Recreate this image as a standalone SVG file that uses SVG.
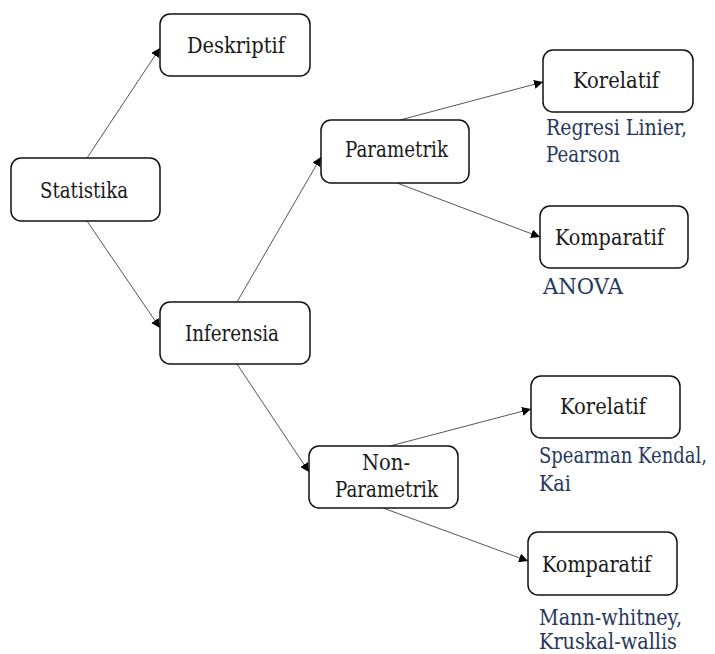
<svg xmlns="http://www.w3.org/2000/svg" width="715" height="654" viewBox="0 0 715 654">
<defs>
<marker id="ah" viewBox="0 0 10 10" refX="10" refY="5" markerWidth="9" markerHeight="9" markerUnits="userSpaceOnUse" orient="auto">
<path d="M0,0 L10,5 L0,10 z" fill="#000"/>
</marker>
<style>
.box{fill:#fff;stroke:#111;stroke-width:1.5}
.t{font-family:"DejaVu Serif",serif;font-size:22px;fill:#1a1a1a}
.b{font-family:"DejaVu Serif",serif;font-size:22px;fill:#27385e}
.c{stroke:#555;stroke-width:1;fill:none;marker-end:url(#ah)}
</style>
</defs>
<rect width="715" height="654" fill="#fff"/>
<g id="connectors">
<line class="c" x1="87" y1="158" x2="160" y2="48"/>
<line class="c" x1="87" y1="221" x2="160" y2="328"/>
<line class="c" x1="237" y1="302" x2="321" y2="157"/>
<line class="c" x1="237" y1="364" x2="309" y2="472"/>
<line class="c" x1="400" y1="120" x2="543" y2="82"/>
<line class="c" x1="397" y1="183" x2="540" y2="237"/>
<line class="c" x1="390" y1="446" x2="531" y2="409"/>
<line class="c" x1="383" y1="508" x2="528" y2="561"/>
</g>
<g id="deskriptif"><rect class="box" x="160" y="14" width="150" height="62" rx="10"/><text class="t" x="187" y="53" textLength="98" lengthAdjust="spacingAndGlyphs">Deskriptif</text></g>
<g id="statistika"><rect class="box" x="11" y="158" width="149" height="63" rx="10"/><text class="t" x="40" y="198" textLength="88" lengthAdjust="spacingAndGlyphs">Statistika</text></g>
<g id="inferensia"><rect class="box" x="160" y="302" width="150" height="62" rx="10"/><text class="t" x="185" y="341" textLength="94" lengthAdjust="spacingAndGlyphs">Inferensia</text></g>
<g id="parametrik"><rect class="box" x="321" y="120" width="148" height="63" rx="10"/><text class="t" x="345" y="157" textLength="103" lengthAdjust="spacingAndGlyphs">Parametrik</text></g>
<g id="korelatif1"><rect class="box" x="543" y="50" width="150" height="62" rx="10"/><text class="t" x="573" y="88" textLength="86" lengthAdjust="spacingAndGlyphs">Korelatif</text></g>
<g id="komparatif1"><rect class="box" x="540" y="206" width="148" height="62" rx="10"/><text class="t" x="555" y="245" textLength="109" lengthAdjust="spacingAndGlyphs">Komparatif</text></g>
<g id="nonparametrik"><rect class="box" x="309" y="446" width="149" height="62" rx="10"/><text class="t" x="362" y="470" textLength="48" lengthAdjust="spacingAndGlyphs">Non-</text><text class="t" x="335" y="497" textLength="103" lengthAdjust="spacingAndGlyphs">Parametrik</text></g>
<g id="korelatif2"><rect class="box" x="531" y="376" width="149" height="62" rx="10"/><text class="t" x="560" y="414" textLength="86" lengthAdjust="spacingAndGlyphs">Korelatif</text></g>
<g id="komparatif2"><rect class="box" x="528" y="532" width="149" height="63" rx="10"/><text class="t" x="542" y="572" textLength="109" lengthAdjust="spacingAndGlyphs">Komparatif</text></g>
<g id="labels">
<text class="b" x="546" y="135" textLength="141" lengthAdjust="spacingAndGlyphs">Regresi Linier,</text>
<text class="b" x="546" y="162" textLength="74" lengthAdjust="spacingAndGlyphs">Pearson</text>
<text class="b" x="543" y="294" textLength="80" lengthAdjust="spacingAndGlyphs">ANOVA</text>
<text class="b" x="539" y="463" textLength="168" lengthAdjust="spacingAndGlyphs">Spearman Kendal,</text>
<text class="b" x="539" y="491" textLength="32" lengthAdjust="spacingAndGlyphs">Kai</text>
<text class="b" x="539" y="625" textLength="143" lengthAdjust="spacingAndGlyphs">Mann-whitney,</text>
<text class="b" x="539" y="649" textLength="138" lengthAdjust="spacingAndGlyphs">Kruskal-wallis</text>
</g>
</svg>
